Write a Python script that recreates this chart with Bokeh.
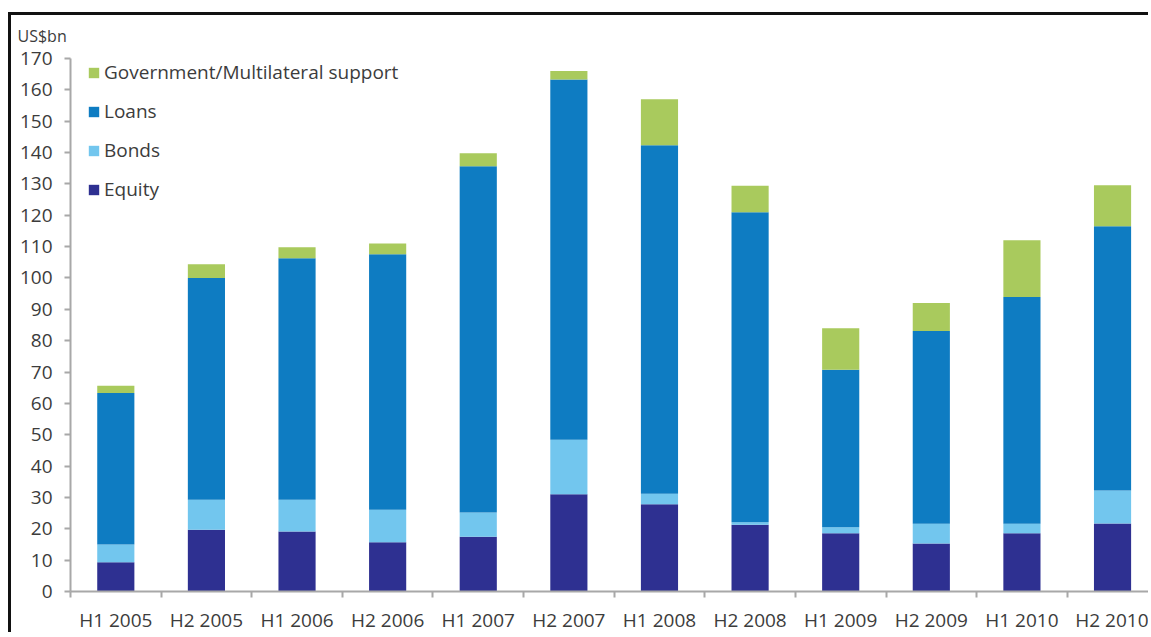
import numpy as np
from bokeh.plotting import figure
from bokeh.models import (ColumnDataSource, Range1d, FixedTicker, Legend, LegendItem)
from bokeh.embed import file_html
from bokeh.resources import INLINE

categories = ["H1 2005", "H2 2005", "H1 2006", "H2 2006", "H1 2007", "H2 2007",
              "H1 2008", "H2 2008", "H1 2009", "H2 2009", "H1 2010", "H2 2010"]
equity = [9.3, 19.7, 19.1, 15.7, 17.5, 31.0, 27.8, 21.3, 18.6, 15.3, 18.6, 21.7]
bonds = [5.7, 9.6, 10.2, 10.4, 7.7, 17.4, 3.4, 0.8, 1.9, 6.3, 3.0, 10.5]
loans = [48.3, 70.7, 77.0, 81.5, 110.4, 114.9, 111.1, 98.9, 50.2, 61.5, 72.3, 84.3]
government = [2.3, 4.4, 3.5, 3.4, 4.2, 2.7, 14.7, 8.4, 13.3, 8.9, 18.1, 13.1]
y_ticks = list(range(0, 171, 10))

series = ["equity", "bonds", "loans", "government"]
names = {"equity": "Equity", "bonds": "Bonds", "loans": "Loans",
         "government": "Government/Multilateral support"}
colors = ["#2e3091", "#72c6ee", "#0e7cc2", "#a9ca5d"]

xpos = np.arange(len(categories))
source = ColumnDataSource(dict(x=xpos, equity=equity, bonds=bonds, loans=loans,
                               government=government))

FONT = "Open Sans"
TXT = "#3c3c3c"
AX = "#a8a8a8"

p = figure(width=1140, height=620, output_backend="svg", toolbar_location=None,
           x_range=Range1d(-0.5, 11.43), y_range=Range1d(0, 170),
           min_border_left=59, min_border_right=0, min_border_top=42,
           min_border_bottom=44, outline_line_color=None,
           title="US$bn")
p.styles = {"border-top": "3px solid #111", "border-left": "3px solid #111",
            "margin-top": "12px", "margin-left": "8px"}

p.title.align = "left"
p.title.vertical_align = "top"
p.title.offset = -53
p.title.standoff = 19
p.title.text_font = FONT
p.title.text_font_size = "16px"
p.title.text_font_style = "normal"
p.title.text_color = TXT

rs = p.vbar_stack(series, x="x", width=0.41, color=colors, source=source,
                  line_color=None)

p.xgrid.visible = False
p.ygrid.visible = False

xa = p.xaxis[0]
xa.ticker = FixedTicker(ticks=list(xpos),
                        minor_ticks=[i - 0.5 for i in range(len(categories) + 1)])
xa.major_label_overrides = {int(i): c for i, c in zip(xpos, categories)}
xa.major_tick_out = 0
xa.major_tick_in = 0
xa.minor_tick_out = 6
xa.minor_tick_in = 0
xa.minor_tick_line_color = AX
xa.minor_tick_line_width = 2
xa.axis_line_color = AX
xa.axis_line_width = 2
xa.major_label_standoff = 9
xa.major_label_text_font = FONT
xa.major_label_text_font_size = "19px"
xa.major_label_text_color = TXT

ya = p.yaxis[0]
ya.ticker = FixedTicker(ticks=y_ticks)
ya.major_tick_out = 6
ya.major_tick_in = 0
ya.minor_tick_out = 0
ya.minor_tick_in = 0
ya.major_tick_line_color = AX
ya.major_tick_line_width = 2
ya.axis_line_color = AX
ya.axis_line_width = 2
ya.major_label_standoff = 12
ya.major_label_text_font = FONT
ya.major_label_text_font_size = "19px"
ya.major_label_text_color = TXT

items = [LegendItem(label=names[s], renderers=[r]) for s, r in zip(series, rs)][::-1]
legend = Legend(items=items, location=(17, 389), padding=0, margin=0,
                border_line_color=None, background_fill_alpha=0,
                glyph_width=13, glyph_height=13, label_height=22, spacing=13,
                label_standoff=4, label_text_font=FONT,
                label_text_font_size="19px", label_text_color=TXT)
p.add_layout(legend, "center")

open("out.html", "w").write(file_html(p, INLINE))
